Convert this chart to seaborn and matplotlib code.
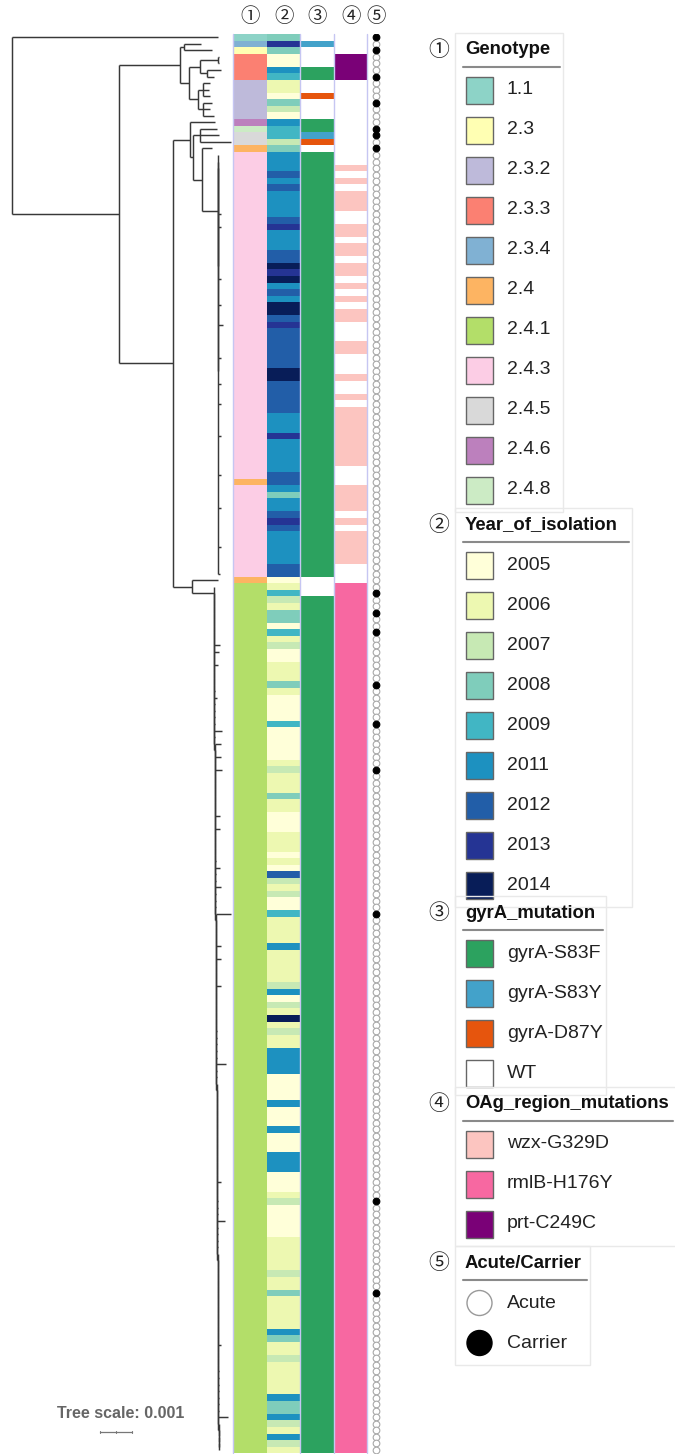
import matplotlib
matplotlib.use('Agg')
import matplotlib.pyplot as plt
import seaborn as sns
import numpy as np
import pandas as pd
from matplotlib.colors import ListedColormap
from matplotlib.collections import LineCollection
from matplotlib.patches import Rectangle, Circle

# ---------------- categories and colours ----------------
genotypes = ['1.1', '2.3', '2.3.2', '2.3.3', '2.3.4', '2.4', '2.4.1', '2.4.3', '2.4.5', '2.4.6', '2.4.8']
genotype_colors = ['#8dd3c7', '#ffffb3', '#bebada', '#fb8072', '#80b1d3', '#fdb462',
                   '#b3de69', '#fccde5', '#d9d9d9', '#bc80bd', '#ccebc5']
years = ['2005', '2006', '2007', '2008', '2009', '2011', '2012', '2013', '2014']
year_colors = ['#ffffd9', '#edf8b1', '#c7e9b4', '#7fcdbb', '#41b6c4', '#1d91c0', '#225ea8', '#253494', '#081d58']
gyra = ['gyrA-S83F', 'gyrA-S83Y', 'gyrA-D87Y', 'WT']
gyra_colors = ['#2ca25f', '#43a2ca', '#e6550d', '#ffffff']
oag = ['wzx-G329D', 'rmlB-H176Y', 'prt-C249C']
oag_colors = ['#fcc5c0', '#f768a1', '#7a0177']
status = ['Acute', 'Carrier']

# ---------------- per-isolate columns (run-length: value, count), top to bottom ----------------
genotype_runs = [('1.1', 1), ('2.3.4', 1), ('2.3', 1), ('2.3.3', 4), ('2.3.2', 6), ('2.4.6', 1),
                 ('2.4.8', 1), ('2.4.5', 2), ('2.4', 1), ('2.4.3', 50), ('2.4', 1), ('2.4.3', 14),
                 ('2.4', 1), ('2.4.1', 133)]

year_runs = [
    # 2.3.x / basal 2.4.x
    ('2008', 1), ('2013', 1), ('2008', 1), ('2005', 2), ('2011', 1), ('2009', 1), ('2006', 2),
    ('2005', 1), ('2008', 1), ('2007', 1), ('2005', 1), ('2011', 1), ('2009', 2), ('2007', 1), ('2008', 1),
    # 2.4.3
    ('2011', 3), ('2012', 1), ('2011', 1), ('2012', 1), ('2011', 4), ('2012', 1), ('2013', 1), ('2011', 3),
    ('2012', 2), ('2014', 1), ('2013', 1), ('2014', 1), ('2011', 1), ('2012', 1), ('2011', 1), ('2014', 2),
    ('2012', 1), ('2013', 1), ('2012', 6), ('2014', 2), ('2012', 5), ('2011', 3), ('2013', 1), ('2011', 5),
    ('2012', 2), ('2011', 1), ('2008', 1), ('2011', 2), ('2012', 1), ('2013', 1), ('2012', 1), ('2011', 5),
    ('2012', 2), ('2005', 1),
    # 2.4.1
    ('2006', 1), ('2009', 1), ('2007', 1), ('2006', 1), ('2008', 2), ('2005', 1), ('2009', 1), ('2006', 1),
    ('2007', 1), ('2005', 2), ('2006', 3), ('2008', 1), ('2006', 1), ('2005', 4), ('2009', 1), ('2005', 5),
    ('2006', 1), ('2007', 1), ('2006', 3), ('2008', 1), ('2006', 2), ('2005', 3), ('2006', 3), ('2005', 1),
    ('2006', 1), ('2005', 1), ('2012', 1), ('2007', 1), ('2006', 1), ('2007', 1), ('2005', 2), ('2009', 1),
    ('2006', 4), ('2011', 1), ('2006', 5), ('2007', 1), ('2011', 1), ('2005', 1), ('2007', 1), ('2006', 1),
    ('2014', 1), ('2006', 1), ('2007', 1), ('2006', 2), ('2011', 4), ('2005', 4), ('2011', 1), ('2005', 3),
    ('2011', 1), ('2005', 3), ('2011', 3), ('2005', 3), ('2006', 1), ('2007', 1), ('2005', 5), ('2006', 5),
    ('2007', 1), ('2006', 2), ('2008', 1), ('2006', 5), ('2011', 1), ('2008', 1), ('2006', 2), ('2007', 1),
    ('2006', 5), ('2011', 1), ('2008', 2), ('2011', 1), ('2007', 1), ('2006', 1), ('2011', 1), ('2007', 1),
    ('2006', 1)]

gyra_runs = [('WT', 1), ('gyrA-S83Y', 1), ('WT', 3), ('gyrA-S83F', 2), ('WT', 2), ('gyrA-D87Y', 1),
             ('WT', 3), ('gyrA-S83F', 2), ('gyrA-S83Y', 1), ('gyrA-D87Y', 1), ('WT', 1),
             ('gyrA-S83F', 65), ('WT', 3), ('gyrA-S83F', 131)]

oag_runs = [('none', 3), ('prt-C249C', 4), ('none', 13),
            ('wzx-G329D', 1), ('none', 1), ('wzx-G329D', 1), ('none', 1), ('wzx-G329D', 3), ('none', 2),
            ('wzx-G329D', 2), ('none', 1), ('wzx-G329D', 2), ('none', 1), ('wzx-G329D', 2), ('none', 1),
            ('wzx-G329D', 1), ('none', 1), ('wzx-G329D', 1), ('none', 1), ('wzx-G329D', 2), ('none', 3),
            ('wzx-G329D', 2), ('none', 3), ('wzx-G329D', 1), ('none', 2), ('wzx-G329D', 1), ('none', 1),
            ('wzx-G329D', 9), ('none', 3), ('wzx-G329D', 4), ('none', 1), ('wzx-G329D', 1), ('none', 1),
            ('wzx-G329D', 5), ('none', 3), ('rmlB-H176Y', 133)]

carrier_rows = [0, 2, 6, 10, 14, 15, 17, 85, 88, 91, 99, 105, 112, 134, 178, 192]

# ---------------- tree (branch lengths in substitutions/site) ----------------
tree_nodes = [  # (node, parent, branch length)
    ('A', 'root', 0.00334),
    ('B', 'A', 0.00191), ('B1', 'B', 0.00011), ('B2', 'B', 0.00028),
    ('B3', 'B2', 0.00034), ('B3a', 'B3', 0.00056), ('B3b', 'B3', 0.00022),
    ('B4', 'B2', 0.00028), ('B4a', 'B4', 0.00015), ('B4b', 'B4', 0.00017),
    ('C', 'A', 0.00170), ('D', 'C', 0.00052), ('E', 'D', 0.00009),
    ('E1', 'E', 0.00022), ('F', 'E', 0.00030), ('G', 'F', 0.00049),
    ('G1', 'G', 0.0), ('G2', 'G1', 0.0),
    ('H', 'C', 0.00058), ('I', 'H', 0.00068),
]
tree_leaves = [  # (row, parent, branch length)
    (0, 'root', 0.00644), (1, 'B1', 0.00056), (2, 'B1', 0.00089),
    (3, 'B3a', 0.00003), (4, 'B3a', 0.00003), (5, 'B3b', 0.00043), (6, 'B3b', 0.00022),
    (7, 'B4a', 0.00024), (8, 'B4a', 0.00020), (9, 'B4a', 0.00022),
    (10, 'B4b', 0.00027), (11, 'B4b', 0.00021), (12, 'B4b', 0.00033),
    (13, 'D', 0.00078), (14, 'E1', 0.00053), (15, 'E1', 0.00059), (16, 'E1', 0.00097),
    (17, 'F', 0.00031), (83, 'H', 0.00083),
]
# terminal branches inside the two large clades (rows not listed are ~0)
stub_243 = {27: 0.00008, 29: 0.00008, 37: 0.00008, 41: 0.00010, 44: 0.00014, 49: 0.00008,
            53: 0.00010, 56: 0.00010, 61: 0.00010, 67: 0.00010, 72: 0.00008, 78: 0.00008, 82: 0.00006}
stub_241 = {93: 0.00019, 94: 0.00016, 96: 0.00013, 101: 0.00010, 106: 0.00024, 108: 0.00019,
            110: 0.00021, 112: 0.00024, 119: 0.00016, 121: 0.00016, 127: 0.00016, 130: 0.00019,
            134: 0.00048, 139: 0.00015, 141: 0.00016, 145: 0.00016, 157: 0.00030, 175: 0.00012,
            181: 0.00025, 200: 0.00010, 211: 0.00030}
default_stub = 0.00001
ladder_step = 0.0000012
tree_scale = 0.001


def expand(runs):
    out = []
    for val, n in runs:
        out += [val] * n
    return out


geno_col = expand(genotype_runs)
year_col = expand(year_runs)
gyra_col = expand(gyra_runs)
oag_col = expand(oag_runs)
n_rows = len(geno_col)

palette = genotype_colors + year_colors + gyra_colors + oag_colors + ['#ffffff']
code = {}
for i, g in enumerate(genotypes):
    code[('g', g)] = i
for i, y in enumerate(years):
    code[('y', y)] = 11 + i
for i, m in enumerate(gyra):
    code[('a', m)] = 20 + i
for i, m in enumerate(oag):
    code[('o', m)] = 24 + i
code[('o', 'none')] = 27

mat = pd.DataFrame({
    'Genotype': [code[('g', v)] for v in geno_col],
    'Year_of_isolation': [code[('y', v)] for v in year_col],
    'gyrA_mutation': [code[('a', v)] for v in gyra_col],
    'OAg_region_mutations': [code[('o', v)] for v in oag_col],
})

# ---------------- tree layout ----------------
parent, blen, order = {}, {}, ['root']
for name, par, bl in tree_nodes:
    parent[name], blen[name] = par, bl
    order.append(name)
ladder = ['I'] + ['L%d' % r for r in range(85, n_rows - 1)]
for prev, nxt in zip(ladder[:-1], ladder[1:]):
    parent[nxt], blen[nxt] = prev, ladder_step
    order.append(nxt)

leaves = list(tree_leaves)
for r in range(18, 83):
    par = 'G' if r == 18 else ('G1' if r == 19 else 'G2')
    leaves.append((r, par, stub_243.get(r, default_stub)))
for r in range(84, n_rows):
    par = 'I' if r == 84 else 'L%d' % min(r, n_rows - 2)
    leaves.append((r, par, stub_241.get(r, default_stub)))

xpos = {'root': 0.0}
for n in order[1:]:
    xpos[n] = xpos[parent[n]] + blen[n]
child_y = {n: [] for n in order}
for r, par, bl in leaves:
    child_y[par].append(r + 0.5)
ypos = {}
for n in reversed(order):
    ys = child_y[n]
    ypos[n] = (min(ys) + max(ys)) / 2
    if n != 'root':
        child_y[parent[n]].append(ypos[n])

segs = []
for r, par, bl in leaves:
    segs.append([(xpos[par], r + 0.5), (xpos[par] + bl, r + 0.5)])
for n in order:
    ys = child_y[n]
    segs.append([(xpos[n], min(ys)), (xpos[n], max(ys))])
    if n != 'root':
        segs.append([(xpos[parent[n]], ypos[n]), (xpos[n], ypos[n])])

# ---------------- figure ----------------
sns.set_theme(style='white')
plt.rcParams['font.family'] = ['Liberation Sans', 'Noto Sans CJK JP', 'DejaVu Sans']

W, H = 675, 1454
fig = plt.figure(figsize=(W / 100, H / 100), dpi=100)
fig.patch.set_facecolor('white')

top, row_h = 34.0, 6.54
bottom = top + n_rows * row_h
px_per_unit = 32000.0
root_px = 12.0
hm_left, hm_right = 233.0, 367.4


def px_axes(x0, y0, x1, y1):
    return fig.add_axes([x0 / W, 1 - y1 / H, (x1 - x0) / W, (y1 - y0) / H])


# tree
ax_tree = px_axes(0, top, hm_left, bottom)
ax_tree.add_collection(LineCollection(segs, colors='#383838', linewidths=1.05, capstyle='butt'))
ax_tree.set_xlim(-root_px / px_per_unit, (hm_left - root_px) / px_per_unit)
ax_tree.set_ylim(n_rows, 0)
ax_tree.axis('off')
# tree scale bar
sb_x0 = (100 - root_px) / px_per_unit
sb_y = (1432 - top) / row_h
ax_tree.plot([sb_x0, sb_x0 + tree_scale], [sb_y, sb_y], color='#777777', lw=0.9, clip_on=False)
for xx in (sb_x0, sb_x0 + tree_scale / 2, sb_x0 + tree_scale):
    ax_tree.plot([xx, xx], [sb_y - 0.2, sb_y + 0.2], color='#777777', lw=0.8, clip_on=False)
ax_tree.text(sb_x0 + tree_scale * 0.65, (1413 - top) / row_h, 'Tree scale: 0.001', ha='center',
             va='center', fontsize=11.5, fontweight='bold', color='#666666', clip_on=False)

# heatmap columns
ax_hm = px_axes(hm_left, top, hm_right, bottom)
sns.heatmap(mat, cmap=ListedColormap(palette), vmin=-0.5, vmax=len(palette) - 0.5, cbar=False,
            xticklabels=False, yticklabels=False, linewidths=0, ax=ax_hm)
for xv in (0, 2, 3, 4):
    ax_hm.axvline(xv, color='#c6c6f2', lw=1.0, clip_on=False)

# acute / carrier circles
ax_c = px_axes(hm_right, top, 384, bottom)
carrier = np.isin(np.arange(n_rows), carrier_rows)
cdf = pd.DataFrame({'x': 0.5, 'y': np.arange(n_rows) + 0.5,
                    'status': np.where(carrier, 'Carrier', 'Acute')})
acute = cdf[cdf['status'] == 'Acute']
carr = cdf[cdf['status'] == 'Carrier']
ax_c.scatter(acute['x'], acute['y'], s=23, facecolors='white', edgecolors='#a8a8a8', linewidths=0.8)
ax_c.scatter(carr['x'], carr['y'], s=23, facecolors='black', edgecolors='black', linewidths=0.8, zorder=3)
ax_c.set_xlim(0, 1)
ax_c.set_ylim(n_rows, 0)
ax_c.axis('off')

# ---------------- headers and legend (pixel canvas) ----------------
canvas = fig.add_axes([0, 0, 1, 1])
canvas.set_xlim(0, W)
canvas.set_ylim(H, 0)
canvas.axis('off')

num = ['①', '②', '③', '④', '⑤']
head_x = [250, 284, 317, 351, 376]
for s, hx in zip(num, head_x):
    canvas.text(hx, 16, s, ha='center', va='center', fontsize=14, color='#222222',
                family=['Noto Sans CJK JP', 'DejaVu Sans'])

groups = [
    ('Genotype', genotypes, genotype_colors, 50, 563),
    ('Year_of_isolation', years, year_colors, 525, 632),
    ('gyrA_mutation', gyra, gyra_colors, 913, 606),
    ('OAg_region_mutations', oag, oag_colors, 1104, 676),
    ('Acute/Carrier', status, None, 1263, 590),
]
for gi, (title, labels, colors, ty, bx) in enumerate(groups):
    last = ty + 40 + 40 * (len(labels) - 1)
    canvas.add_patch(Rectangle((455, ty - 17), bx - 455, last + 22 - (ty - 17), fc='none',
                               ec='#e9e9e9', lw=1.0))
    canvas.text(439, ty, num[gi], ha='center', va='center', fontsize=15, color='#222222',
                family=['Noto Sans CJK JP', 'DejaVu Sans'])
    canvas.text(465, ty, title, ha='left', va='center', fontsize=13.3, fontweight='bold', color='#111111')
    canvas.plot([463, bx - 3], [ty + 17, ty + 17], color='#8a8a8a', lw=1.5)
    for k, lab in enumerate(labels):
        yy = ty + 40 + 40 * k
        if colors is not None:
            canvas.add_patch(Rectangle((466, yy - 13.5), 27, 27, fc=colors[k], ec='#666666', lw=1.0))
        else:
            fc = 'white' if lab == 'Acute' else 'black'
            ec = '#999999' if lab == 'Acute' else 'black'
            canvas.add_patch(Circle((479.5, yy), 12.5, fc=fc, ec=ec, lw=1.0))
        canvas.text(507, yy, lab, ha='left', va='center', fontsize=14, color='#222222')

fig.savefig('out.png', dpi=100, facecolor='white')
